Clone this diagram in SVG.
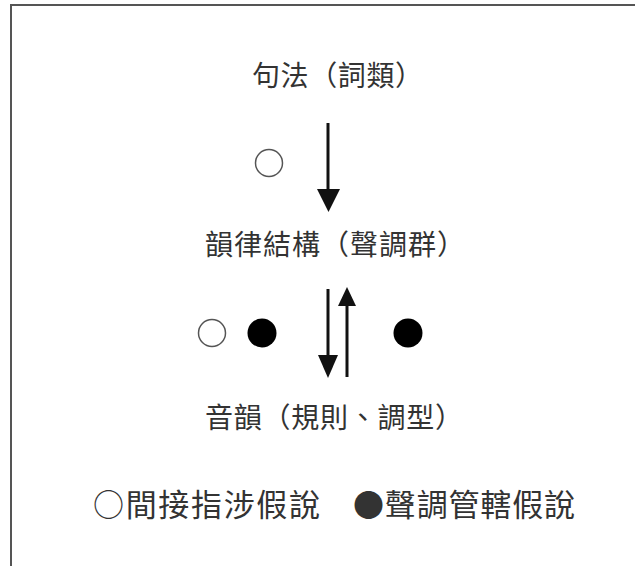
<svg xmlns="http://www.w3.org/2000/svg" width="635" height="566" viewBox="0 0 635 566">
<defs>
<style>
.t{font-family:"Noto Sans CJK TC","Noto Sans CJK SC",sans-serif;fill:#333;font-weight:400}
.ln{stroke:#111;stroke-width:3;fill:none}
.hd{fill:#111}
.oc{fill:none;stroke:#555;stroke-width:1.5}
.fc{fill:#000}
</style>
</defs>
<rect x="0" y="0" width="635" height="566" fill="#fff"/>
<path d="M11,566 V5 H635" fill="none" stroke="#555" stroke-width="2"/>
<g id="node-syntax">
<text class="t" x="252" y="86" font-size="28" textLength="171" lengthAdjust="spacing">句法（詞類）</text>
</g>
<g id="node-prosody">
<text class="t" x="205" y="255" font-size="28" textLength="260" lengthAdjust="spacing">韻律結構（聲調群）</text>
</g>
<g id="node-phonology">
<text class="t" x="205" y="428" font-size="28" textLength="258" lengthAdjust="spacing">音韻（規則、調型）</text>
</g>
<g id="markers">
<circle class="oc" cx="269" cy="163" r="13.5"/>
<circle class="oc" cx="212" cy="333" r="13.5"/>
<circle class="fc" cx="262" cy="333" r="14.5"/>
<circle class="fc" cx="408" cy="333" r="14.5"/>
</g>
<g id="connectors">
<line class="ln" x1="328" y1="123" x2="328" y2="192"/>
<polygon class="hd" points="317,189 340,189 328.5,212"/>
<line class="ln" x1="328" y1="289" x2="328" y2="358"/>
<polygon class="hd" points="318,355 338,355 328,378"/>
<line class="ln" x1="347" y1="303" x2="347" y2="377"/>
<polygon class="hd" points="338,306 356,306 347,287"/>
</g>
<g id="legend">
<text class="t" x="93" y="516" font-size="31" textLength="227" lengthAdjust="spacing">○間接指涉假說</text>
<text class="t" x="353" y="516" font-size="31" textLength="222" lengthAdjust="spacing">●聲調管轄假說</text>
</g>
</svg>
